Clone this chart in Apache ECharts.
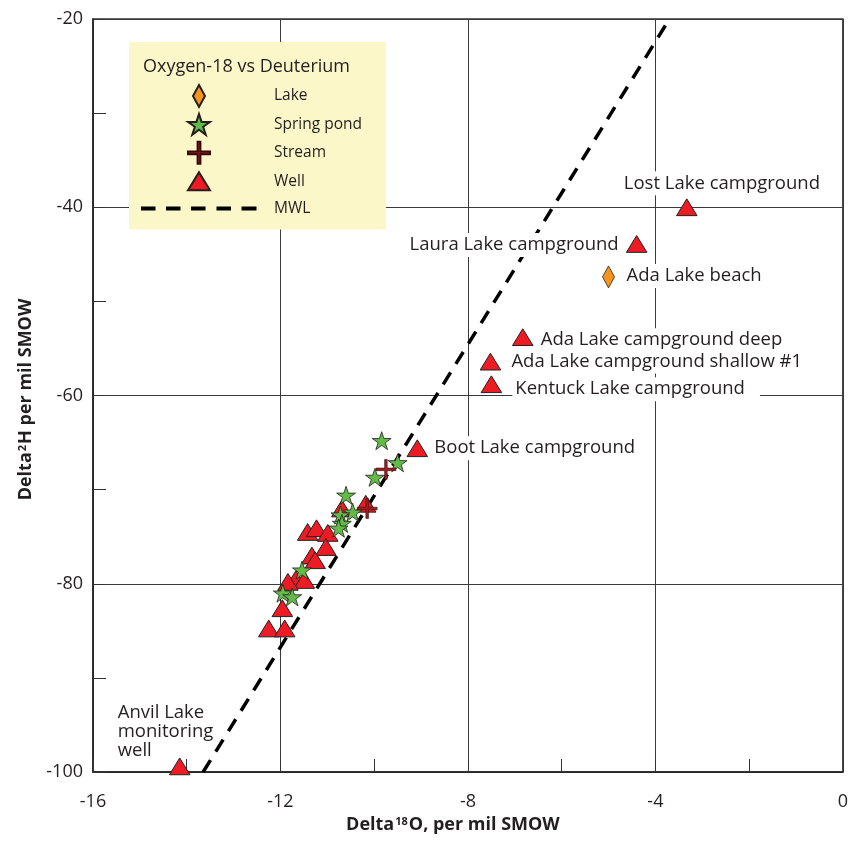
<!DOCTYPE html>
<html><head><meta charset="utf-8">
<script src="https://cdn.jsdelivr.net/npm/echarts@6/dist/echarts.min.js"></script>
<style>html,body{margin:0;padding:0;background:#fff}#c{width:851px;height:844px}</style>
</head><body><div id="c"></div>
<script>
// ---- data ----
const wellNames = ['Lost Lake campground','Laura Lake campground','Ada Lake campground deep','Ada Lake campground shallow #1','Kentuck Lake campground','Boot Lake campground','Anvil Lake\nmonitoring\nwell','','','','','','','','','','','','','',''];
const wellX = [-3.33,-4.40,-6.83,-7.52,-7.50,-9.08,-14.15,-10.18,-10.69,-11.42,-11.23,-10.99,-11.03,-11.33,-11.26,-11.67,-11.49,-11.84,-11.96,-12.25,-11.91];
const wellY = [-40.0,-43.9,-53.8,-56.4,-58.8,-65.6,-99.4,-71.5,-72.0,-74.5,-74.1,-74.6,-76.1,-77.0,-77.5,-79.5,-79.6,-79.8,-82.6,-84.75,-84.75];
const springX = [-9.84,-9.50,-9.985,-10.60,-10.46,-10.72,-10.69,-10.76,-11.54,-11.95,-11.75];
const springY = [-64.8,-67.15,-68.7,-70.6,-72.4,-72.7,-73.6,-74.1,-78.55,-81.0,-81.4];
const streamX = [-9.75,-10.15];
const streamY = [-67.85,-72.0];
const lakeNames = ['Ada Lake beach'];
const lakeX = [-5.0];
const lakeY = [-47.4];
const mwlX = [-13.65,-3.7];
const mwlY = [-100,-20];
const xTicks = [-16,-12,-8,-4,0];
const yTicks = [-100,-80,-60,-40,-20];

// ---- styles ----
const FONT = "'Open Sans','Noto Sans',sans-serif";
const TXT = '#231f20';
const P = {
  tri: 'path://M0,0M22,22M11,2L22,20L0,20Z',
  dia: 'path://M0,0M22,22M11,0L17,11L11,22L5,11Z',
  star: 'path://M0,0M22,22M11,0.6L13.58,8.5L21.94,8.5L15.18,13.4L17.76,21.4L11,16.4L4.24,21.4L6.82,13.4L0.06,8.5L8.42,8.5Z',
  cross: 'path://M0,0M22,22M9.6,0H12.4V9.6H22V12.4H12.4V22H9.6V12.4H0V9.6H9.6Z',
  mwl: 'path://M0,0M116,22M0,9H14.5V13H0Z M25,9H39.5V13H25Z M50,9H64.5V13H50Z M75.5,9H90V13H75.5Z M100.5,9H115.5V13H100.5Z'
};
const labelLayout = {
  'Lost Lake campground': {align:'left', dx:-66, dy:-24},
  'Laura Lake campground': {align:'right', dx:-15, dy:1},
  'Ada Lake beach': {align:'left', dx:15, dy:-1},
  'Ada Lake campground deep': {align:'left', dx:15, dy:3},
  'Ada Lake campground shallow #1': {align:'left', dx:18, dy:0},
  'Kentuck Lake campground': {align:'left', dx:21, dy:5, pad:[1,15,1,3]},
  'Boot Lake campground': {align:'left', dx:14, dy:0},
  'Anvil Lake\nmonitoring\nwell': {align:'left', dx:-65, dy:-35, lh:19, bg:false}
};
function makeLabel(name){
  if(!name) return {show:false};
  const L = labelLayout[name];
  return {show:true, formatter:name, position:'inside', align:L.align, verticalAlign:'middle',
    offset:[L.dx,L.dy], backgroundColor: L.bg===false ? 'transparent' : '#fff',
    padding: L.pad || [1,3,1,3], fontSize:18.5, color:TXT, fontFamily:FONT,
    lineHeight: L.lh || 22};
}
function pts(xs, ys, names){
  return xs.map((x,i)=>({value:[x,ys[i]], label: makeLabel(names ? names[i] : '')}));
}

const chart = echarts.init(document.getElementById('c'), null, {renderer:'canvas'});
const axisCommon = {
  type:'value',
  axisLine:{show:true, onZero:false, lineStyle:{color:'#222', width:1.5}},
  axisTick:{show:true, inside:true, length:13, lineStyle:{color:'#333', width:1}},
  minorTick:{show:true, splitNumber:2, length:13, lineStyle:{color:'#333', width:1}},
  splitLine:{show:true, lineStyle:{color:'#3a3a3a', width:1}},
  nameLocation:'middle'
};
chart.setOption({
  animation:false,
  backgroundColor:'#fff',
  title:{text:'Oxygen-18 vs Deuterium', left:138, top:53, z:10,
    textStyle:{fontSize:18, fontWeight:'normal', color:TXT, fontFamily:FONT}},
  legend:{
    left:129, top:42, orient:'vertical', itemWidth:116, itemHeight:22, itemGap:4.4,
    padding:[42,24,10,12], backgroundColor:'#FBF7C9', selectedMode:false,
    textStyle:{fontSize:15.5, lineHeight:18, color:TXT, fontFamily:FONT, padding:[0,0,0,12]},
    data:[
      {name:'Lake', icon:P.dia},
      {name:'Spring pond', icon:P.star},
      {name:'Stream', icon:P.cross},
      {name:'Well', icon:P.tri},
      {name:'MWL', icon:P.mwl, itemStyle:{color:'#000', borderWidth:0}}
    ]
  },
  grid:{left:93, right:6, top:19, bottom:72, show:true, borderColor:'#333', borderWidth:1.5},
  xAxis: Object.assign({}, axisCommon, {
    min:xTicks[0], max:xTicks[xTicks.length-1], interval:xTicks[1]-xTicks[0],
    axisLabel:{fontSize:18, color:TXT, margin:21, fontFamily:FONT},
    name:'Delta{sup|18}O, per mil SMOW', nameGap:39,
    nameTextStyle:{fontSize:18, fontWeight:'bold', color:TXT, fontFamily:FONT, padding:[0,30,0,0],
      rich:{sup:{fontSize:11, fontWeight:'bold', color:TXT, fontFamily:FONT, verticalAlign:'top', padding:[0,1,6,1]}}}
  }),
  yAxis: Object.assign({}, axisCommon, {
    min:yTicks[0], max:yTicks[yTicks.length-1], interval:yTicks[1]-yTicks[0],
    axisLabel:{fontSize:18, color:TXT, margin:10, fontFamily:FONT},
    name:'Delta{sup|2}H per mil SMOW', nameGap:58,
    nameTextStyle:{fontSize:18, fontWeight:'bold', color:TXT, fontFamily:FONT, padding:[0,8,0,0],
      rich:{sup:{fontSize:11, fontWeight:'bold', color:TXT, fontFamily:FONT, verticalAlign:'top', padding:[0,1,6,1]}}}
  }),
  series:[
    {name:'MWL', type:'line', z:1, symbol:'none', silent:true,
     data: mwlX.map((x,i)=>[x,mwlY[i]]),
     itemStyle:{color:'#000', borderWidth:0},
     lineStyle:{color:'#000', width:3.5, type:[14,10]}},
    {name:'Well', type:'scatter', z:3, symbol:P.tri, symbolSize:20.5, silent:true,
     itemStyle:{color:'#ED1C24', borderColor:'#231f20', borderWidth:1, opacity:1},
     data: pts(wellX, wellY, wellNames)},
    {name:'Spring pond', type:'scatter', z:4, symbol:P.star, symbolSize:19, silent:true,
     itemStyle:{color:'#62BB46', borderColor:'#231f20', borderWidth:0.8, opacity:1},
     data: pts(springX, springY)},
    {name:'Lake', type:'scatter', z:4, symbol:P.dia, symbolSize:22, silent:true,
     itemStyle:{color:'#F7941D', borderColor:'#231f20', borderWidth:0.8, opacity:1},
     data: pts(lakeX, lakeY, lakeNames)},
    {name:'Stream', type:'scatter', z:5, symbol:P.cross, symbolSize:20, silent:true,
     itemStyle:{color:'#9E1F23', borderColor:'#3a0a0a', borderWidth:0.6, opacity:1},
     data: pts(streamX, streamY)}
  ]
});
</script></body></html>
